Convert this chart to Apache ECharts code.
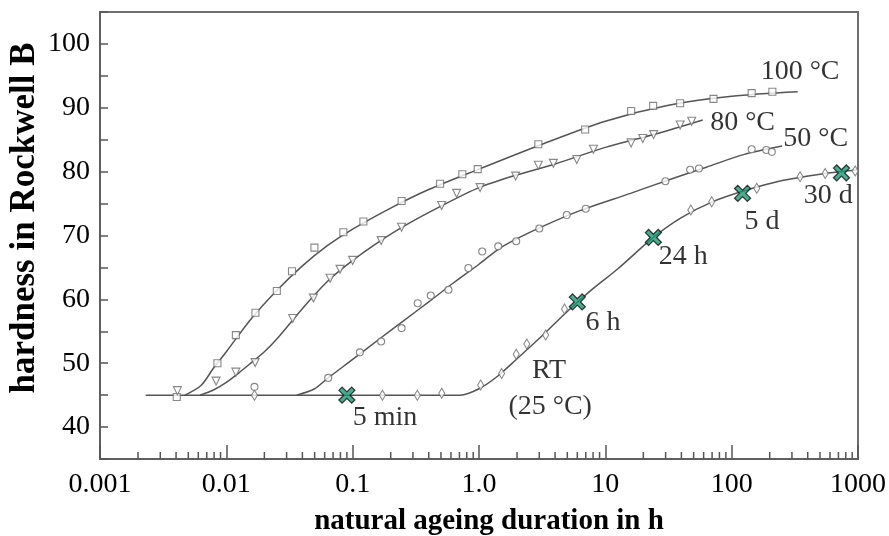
<!DOCTYPE html>
<html><head><meta charset="utf-8">
<script src="https://cdn.jsdelivr.net/npm/echarts@6/dist/echarts.min.js"></script>
<style>html,body{margin:0;padding:0;background:#fff}#c{width:889px;height:536px}</style>
</head><body><div id="c"></div>
<script>
// ---- data (hours, Rockwell B) ----
const xTickLabels = ['0.001','0.01','0.1','1.0','10','100','1000'];
const decades = [0.001,0.01,0.1,1,10,100];
const minorMult = [2,3,4,5,6,7,8,9];

// fitted curves
const curve100 = [[0.0047,45],[0.0063,46.5],[0.0079,49.2],[0.01,51.8],[0.0158,57.0],[0.0251,61.4],[0.0398,65.2],[0.063,68.4],[0.1,71.0],[0.2,74.3],[0.4,77.2],[1,80.4],[3.16,84.3],[10,87.9],[31.6,90.4],[100,91.8],[333,92.5]];
const curve80 = [[0.0062,45],[0.0079,45.8],[0.01,47.0],[0.0126,48.5],[0.0158,50.1],[0.02,51.8],[0.0251,53.8],[0.0398,58.5],[0.063,62.8],[0.1,66.1],[0.158,68.9],[0.251,71.4],[0.5,74.6],[1,77.5],[2,79.5],[4,81.2],[10,83.8],[25,85.9],[59,88.1]];
const curve50 = [[0.036,45],[0.05,46.0],[0.063,47.6],[0.1,50.6],[0.158,53.6],[0.251,56.6],[0.4,59.6],[0.63,62.6],[1,65.5],[1.41,67.8],[2,69.5],[3.16,71.4],[6.3,73.9],[15.8,76.6],[31.6,78.7],[63,80.7],[126,82.7],[251,84.0]];
const curveRT = [[0.0023,45],[0.25,45],[0.71,45],[1,46.0],[1.41,48.0],[2,50.7],[3.16,54.3],[5,58.1],[7.9,61.6],[12.6,64.8],[24,69.7],[40,72.8],[71,75.3],[126,77.0],[251,78.6],[501,79.6],[1000,80.3]];

// measured points
const pts100 = [[0.00405,44.7],[0.0085,50.0],[0.0119,54.4],[0.017,57.9],[0.0251,61.3],[0.0331,64.4],[0.0498,68.1],[0.0844,70.5],[0.1216,72.2],[0.244,75.4],[0.492,78.1],[0.738,79.6],[0.977,80.4],[2.95,84.3],[6.92,86.6],[16.0,89.5],[23.9,90.3],[39.1,90.7],[71.8,91.4],[144,92.3],[210,92.5]];
const pts80 = [[0.0041,45.7],[0.0083,47.2],[0.0119,48.6],[0.0169,50.1],[0.0335,57.0],[0.0489,60.2],[0.0663,63.3],[0.0794,64.7],[0.1,66.1],[0.168,69.2],[0.244,71.3],[0.506,74.7],[0.665,76.6],[1.02,77.5],[1.95,79.3],[2.95,81.0],[3.88,81.3],[5.94,81.9],[8.05,83.5],[16.0,84.5],[19.8,85.2],[24.1,85.8],[39.1,87.3],[48.3,87.9]];
const pts50 = [[0.0167,46.3],[0.064,47.7],[0.114,51.7],[0.168,53.4],[0.244,55.5],[0.327,59.4],[0.415,60.6],[0.573,61.5],[0.824,64.9],[1.06,67.5],[1.42,68.3],[1.97,69.1],[3.0,71.1],[4.95,73.2],[7.0,74.2],[29.9,78.5],[46.9,80.3],[55.1,80.5],[144,83.5],[188,83.4],[208,83.1]];
const ptsRT = [[0.0167,45],[0.172,45],[0.325,45],[0.507,45.3],[1.03,46.6],[1.51,48.4],[1.97,51.4],[2.39,53.0],[3.37,54.4],[4.75,58.5],[47.5,74.0],[69.5,75.3],[158,77.4],[348,79.2],[550,79.7],[950,80.1]];

// highlighted times: 5 min, 6 h, 24 h, 5 d, 30 d
const crosses = [[0.09,45],[6.0,59.6],[24,69.7],[122,76.6],[740,79.8]];

const annotations = [
  [348,95.6,'100 °C'],[122,87.7,'80 °C'],[462,85.1,'50 °C'],
  [3.59,48.9,'RT'],[3.66,43.2,'(25 °C)'],
  [0.18,41.5,'5 min'],[9.6,56.4,'6 h'],[41.3,66.7,'24 h'],[174,72.1,'5 d'],[581,76.3,'30 d']
];

const minorTicks = [];
decades.forEach(d => minorMult.forEach(m => minorTicks.push([d*m, 35])));

// ---- chart ----
const FONT = 'Liberation Serif';
const LINE = '#555';
const MK = '#6a6a6a';
const chart = echarts.init(document.getElementById('c'), null, {renderer:'canvas'});

function lineSeries(data){
  return {type:'line', data, showSymbol:false, smooth:0.3,
    lineStyle:{color:LINE, width:1.5}, z:2, silent:true, animation:false};
}
function ptSeries(data, symbol, size, rotate){
  return {type:'scatter', data, symbol, symbolSize:size, symbolRotate:rotate||0,
    itemStyle:{color:'#fff', borderColor:MK, borderWidth:1.1}, z:3, animation:false};
}
const xPath = 'path://M0,2 L2,0 L5,3 L8,0 L10,2 L7,5 L10,8 L8,10 L5,7 L2,10 L0,8 L3,5 Z';

chart.setOption({
  animation:false,
  grid:{left:100, right:31, top:12, bottom:77, show:true, borderColor:'#707070', borderWidth:2, backgroundColor:'transparent'},
  xAxis:{type:'log', logBase:10, min:0.001, max:1000,
    axisLine:{lineStyle:{color:'#606060', width:2}},
    axisTick:{inside:true, length:14, lineStyle:{color:LINE, width:1.5}},
    axisLabel:{margin:12, color:'#000', fontFamily:FONT, fontSize:28,
      formatter:v => xTickLabels[Math.round(Math.log10(v))+3]},
    splitLine:{show:false}},
  yAxis:{type:'value', min:35, max:105, interval:5,
    axisLine:{show:true, lineStyle:{color:'#606060', width:2}},
    axisTick:{show:true, inside:true, length:8, lineStyle:{color:LINE, width:1.5}},
    axisLabel:{margin:10, color:'#000', fontFamily:FONT, fontSize:28,
      formatter:v => (v%10===0 && v>=40 && v<=100) ? String(v) : ''},
    splitLine:{show:false}},
  graphic:[
    {type:'text', x:489, y:522, style:{text:'natural ageing duration in h', font:'bold 29px "Liberation Serif"', fill:'#000', align:'center', verticalAlign:'middle'}},
    {type:'text', x:7, y:218, rotation:Math.PI/2, style:{text:'hardness in Rockwell B', font:'bold 35px "Liberation Serif"', fill:'#000', align:'center', verticalAlign:'top'}}
  ],
  series:[
    {type:'custom', data:minorTicks, silent:true, z:1,
      renderItem:(params, api) => {
        const p = api.coord([api.value(0), api.value(1)]);
        return {type:'line', shape:{x1:p[0], y1:p[1], x2:p[0], y2:p[1]-7}, style:{stroke:LINE, lineWidth:1.5}};
      }},
    lineSeries(curveRT), lineSeries(curve50), lineSeries(curve80), lineSeries(curve100),
    ptSeries(pts100, 'rect', 7),
    ptSeries(pts80, 'triangle', 8, 180),
    ptSeries(pts50, 'circle', 7),
    ptSeries(ptsRT, 'diamond', [6,10]),
    {type:'scatter', data:crosses, symbol:xPath, symbolSize:16,
      itemStyle:{color:'#1b9a74', borderColor:'#111', borderWidth:1.3}, z:5},
    {type:'scatter', data:annotations, symbolSize:0, silent:true, z:6,
      label:{show:true, position:'inside', formatter:p => p.data[2], color:'#000', fontFamily:FONT, fontSize:28}}
  ]
});
</script></body></html>
